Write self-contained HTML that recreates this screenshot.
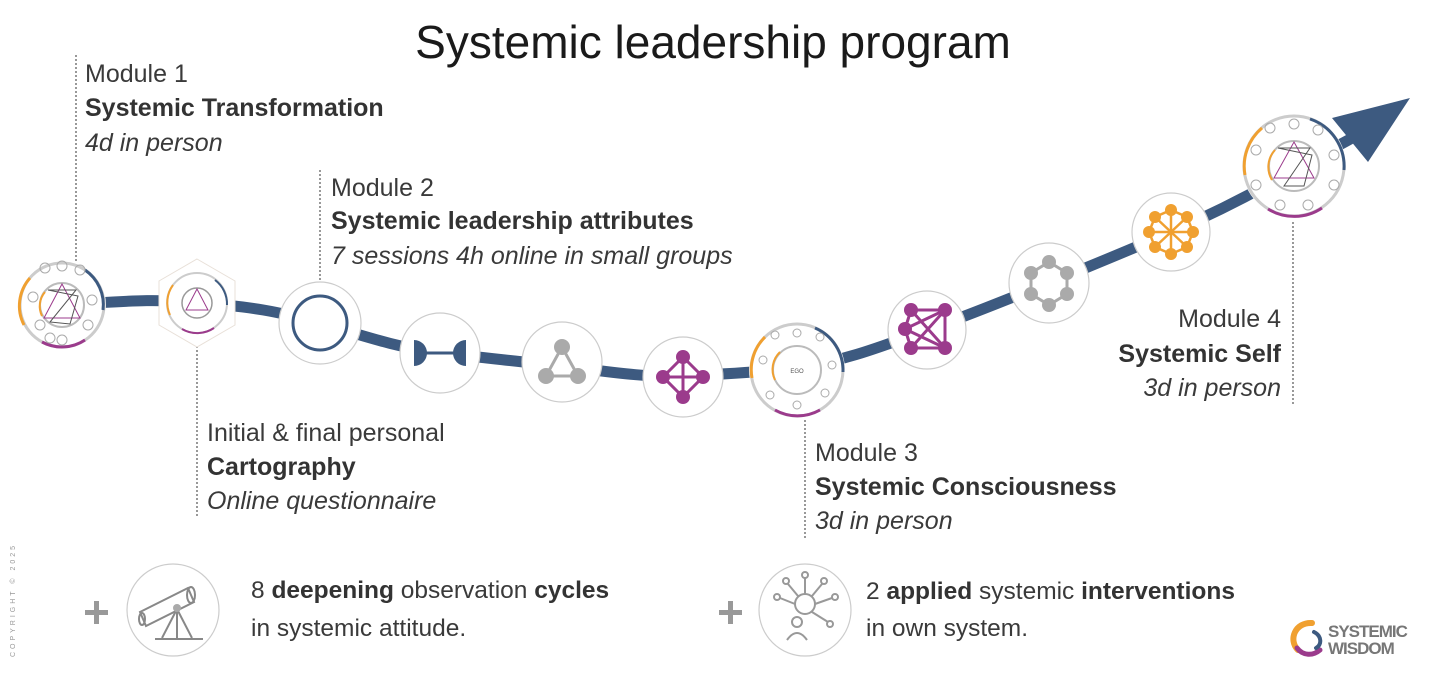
<!DOCTYPE html>
<html><head><meta charset="utf-8"><style>
html,body{margin:0;padding:0;background:#fff;}
svg{display:block;font-family:"Liberation Sans",sans-serif;}
.t{font-size:25px;fill:#3a3a3a;}
.s{font-size:24.5px;fill:#3a3a3a;}
.b{font-weight:bold;fill:#333;}
.i{font-style:italic;}
</style></head><body>
<svg width="1429" height="673" viewBox="0 0 1429 673" xmlns="http://www.w3.org/2000/svg">
<text x="713" y="58" text-anchor="middle" font-size="46" fill="#1a1a1a">Systemic leadership program</text>

<g stroke="#555" stroke-width="1.2" stroke-dasharray="2,2" fill="none">
<line x1="76" y1="55" x2="76" y2="262"/>
<line x1="197" y1="346" x2="197" y2="518"/>
<line x1="320" y1="170" x2="320" y2="284"/>
<line x1="805" y1="420" x2="805" y2="538"/>
<line x1="1293" y1="222" x2="1293" y2="405"/>
</g>

<path d="M60,305 C120,302 150,298 197,303 C250,306 280,312 320,323 C370,338 400,348 440,353 C490,358 520,362 562,366 C610,372 650,378 683,376 C730,374 760,372 797,368 C850,360 890,343 927,330 C970,315 1010,298 1049,283 C1090,266 1130,250 1171,232 C1215,213 1260,190 1300,166 C1325,152 1340,145 1352,138" stroke="#3d5a80" stroke-width="11" fill="none"/>
<polygon points="1410,98 1332,118 1368,162" fill="#3d5a80"/>

<g>
<circle cx="62" cy="305" r="44" fill="#fff"/>
<circle cx="62" cy="305" r="42" fill="none" stroke="#ccc" stroke-width="3"/>
<path d="M30,278 A42,42 0 0 0 24,325" stroke="#f0a030" stroke-width="3" fill="none"/>
<path d="M85,270 A42,42 0 0 1 103,310" stroke="#3d5a80" stroke-width="3" fill="none"/>
<path d="M42,342 A42,42 0 0 0 85,340" stroke="#9b3b8c" stroke-width="3" fill="none"/>
<circle cx="62" cy="305" r="22" fill="none" stroke="#bbb" stroke-width="2"/>
<path d="M45,292 A22,22 0 0 0 42,316" stroke="#f0a030" stroke-width="2" fill="none"/>
<polygon points="62,284 80,318 44,318" fill="none" stroke="#9b3b8c" stroke-width="1"/>
<polygon points="48,290 78,296 70,324 50,322 76,290" fill="none" stroke="#555" stroke-width="1"/>
<g fill="none" stroke="#aaa" stroke-width="1"><circle cx="45" cy="268" r="5"/><circle cx="62" cy="266" r="5"/><circle cx="80" cy="270" r="5"/><circle cx="33" cy="297" r="5"/><circle cx="92" cy="300" r="5"/><circle cx="40" cy="325" r="5"/><circle cx="88" cy="325" r="5"/><circle cx="62" cy="340" r="5"/><circle cx="50" cy="338" r="5"/></g>
</g>

<polygon points="197,259 235,281 235,325 197,347 159,325 159,281" fill="#fff" stroke="#e8e0d8" stroke-width="1"/>
<circle cx="197" cy="303" r="30" fill="none" stroke="#ccc" stroke-width="2"/>
<path d="M173,285 A30,30 0 0 0 170,315" stroke="#f0a030" stroke-width="2" fill="none"/>
<path d="M215,280 A30,30 0 0 1 227,305" stroke="#3d5a80" stroke-width="2" fill="none"/>
<path d="M182,329 A30,30 0 0 0 214,328" stroke="#9b3b8c" stroke-width="2" fill="none"/>
<circle cx="197" cy="303" r="15" fill="none" stroke="#999" stroke-width="1.5"/>
<polygon points="197,289 208,310 186,310" fill="none" stroke="#9b3b8c" stroke-width="1"/>

<g fill="#fff" stroke="#ccc" stroke-width="1.2">
<circle cx="320" cy="323" r="41"/>
<circle cx="440" cy="353" r="40"/>
<circle cx="562" cy="362" r="40"/>
<circle cx="683" cy="377" r="40"/>
<circle cx="927" cy="330" r="39"/>
<circle cx="1049" cy="283" r="40"/>
<circle cx="1171" cy="232" r="39"/>
</g>
<circle cx="320" cy="323" r="27" fill="none" stroke="#3d5a80" stroke-width="3"/>
<g fill="#3d5a80"><path d="M414,340 A13,13 0 0 1 414,366 Z"/><path d="M466,340 A13,13 0 0 0 466,366 Z"/></g>
<line x1="425" y1="353" x2="455" y2="353" stroke="#3d5a80" stroke-width="3"/>
<g stroke="#aaa" stroke-width="3"><line x1="562" y1="347" x2="546" y2="376"/><line x1="562" y1="347" x2="578" y2="376"/><line x1="546" y1="376" x2="578" y2="376"/></g>
<g fill="#aaa"><circle cx="562" cy="347" r="8"/><circle cx="546" cy="376" r="8"/><circle cx="578" cy="376" r="8"/></g>
<g stroke="#9b3b8c" stroke-width="3" fill="none"><polygon points="683,357 703,377 683,397 663,377"/><line x1="683" y1="357" x2="683" y2="397"/><line x1="663" y1="377" x2="703" y2="377"/></g>
<g fill="#9b3b8c"><circle cx="683" cy="357" r="7"/><circle cx="703" cy="377" r="7"/><circle cx="683" cy="397" r="7"/><circle cx="663" cy="377" r="7"/></g>

<circle cx="797" cy="370" r="48" fill="#fff"/>
<circle cx="797" cy="370" r="46" fill="none" stroke="#ccc" stroke-width="3"/>
<path d="M765,337 A46,46 0 0 0 752,378" stroke="#f0a030" stroke-width="3" fill="none"/>
<path d="M815,328 A46,46 0 0 1 843,372" stroke="#3d5a80" stroke-width="3" fill="none"/>
<path d="M775,410 A46,46 0 0 0 820,410" stroke="#9b3b8c" stroke-width="3" fill="none"/>
<circle cx="797" cy="370" r="24" fill="none" stroke="#bbb" stroke-width="2"/>
<path d="M780,352 A24,24 0 0 0 775,380" stroke="#f0a030" stroke-width="2" fill="none"/>
<g fill="none" stroke="#aaa" stroke-width="1"><circle cx="775" cy="335" r="4"/><circle cx="797" cy="333" r="4"/><circle cx="820" cy="337" r="4"/><circle cx="763" cy="360" r="4"/><circle cx="832" cy="365" r="4"/><circle cx="770" cy="395" r="4"/><circle cx="797" cy="405" r="4"/><circle cx="825" cy="393" r="4"/></g>
<text x="797" y="373" font-size="6" text-anchor="middle" fill="#555">EGO</text>

<g stroke="#9b3b8c" stroke-width="3"><line x1="911" y1="310" x2="945" y2="310"/><line x1="911" y1="310" x2="945" y2="348"/><line x1="945" y1="310" x2="911" y2="348"/><line x1="911" y1="348" x2="945" y2="348"/><line x1="905" y1="329" x2="911" y2="310"/><line x1="905" y1="329" x2="911" y2="348"/><line x1="905" y1="329" x2="945" y2="310"/><line x1="905" y1="329" x2="945" y2="348"/><line x1="945" y1="310" x2="945" y2="348"/></g>
<g fill="#9b3b8c"><circle cx="911" cy="310" r="7"/><circle cx="945" cy="310" r="7"/><circle cx="905" cy="329" r="7"/><circle cx="911" cy="348" r="7"/><circle cx="945" cy="348" r="7"/></g>
<polygon points="1049,262 1067,273 1067,294 1049,305 1031,294 1031,273" fill="none" stroke="#aaa" stroke-width="3"/>
<g fill="#aaa"><circle cx="1049" cy="262" r="7"/><circle cx="1067" cy="273" r="7"/><circle cx="1067" cy="294" r="7"/><circle cx="1049" cy="305" r="7"/><circle cx="1031" cy="294" r="7"/><circle cx="1031" cy="273" r="7"/></g>
<g stroke="#f0a030" stroke-width="2.5" fill="none"><polygon points="1171,210 1187,217 1193,232 1187,247 1171,254 1155,247 1149,232 1155,217"/><line x1="1171" y1="210" x2="1171" y2="254"/><line x1="1149" y1="232" x2="1193" y2="232"/><line x1="1155" y1="217" x2="1187" y2="247"/><line x1="1187" y1="217" x2="1155" y2="247"/></g>
<g fill="#f0a030"><circle cx="1171" cy="210" r="6"/><circle cx="1187" cy="217" r="6"/><circle cx="1193" cy="232" r="6"/><circle cx="1187" cy="247" r="6"/><circle cx="1171" cy="254" r="6"/><circle cx="1155" cy="247" r="6"/><circle cx="1149" cy="232" r="6"/><circle cx="1155" cy="217" r="6"/></g>

<circle cx="1294" cy="166" r="52" fill="#fff"/>
<circle cx="1294" cy="166" r="50" fill="none" stroke="#ccc" stroke-width="3"/>
<path d="M1262,128 A50,50 0 0 0 1245,175" stroke="#f0a030" stroke-width="3" fill="none"/>
<path d="M1310,119 A50,50 0 0 1 1344,170" stroke="#3d5a80" stroke-width="3" fill="none"/>
<path d="M1268,209 A50,50 0 0 0 1322,208" stroke="#9b3b8c" stroke-width="3" fill="none"/>
<circle cx="1294" cy="166" r="25" fill="none" stroke="#bbb" stroke-width="2"/>
<path d="M1275,150 A25,25 0 0 0 1272,180" stroke="#f0a030" stroke-width="2" fill="none"/>
<polygon points="1294,142 1314,178 1274,178" fill="none" stroke="#9b3b8c" stroke-width="1"/>
<polygon points="1278,148 1312,155 1304,186 1284,186 1310,148" fill="none" stroke="#555" stroke-width="1"/>
<g fill="none" stroke="#aaa" stroke-width="1"><circle cx="1270" cy="128" r="5"/><circle cx="1294" cy="124" r="5"/><circle cx="1318" cy="130" r="5"/><circle cx="1256" cy="150" r="5"/><circle cx="1334" cy="155" r="5"/><circle cx="1256" cy="185" r="5"/><circle cx="1334" cy="185" r="5"/><circle cx="1280" cy="205" r="5"/><circle cx="1308" cy="205" r="5"/></g>

<text class="t" x="85" y="82">Module 1</text>
<text class="t b" x="85" y="116">Systemic Transformation</text>
<text class="t i" x="85" y="151">4d in person</text>

<text class="t" x="331" y="196">Module 2</text>
<text class="t b" x="331" y="229">Systemic leadership attributes</text>
<text class="t i" x="331" y="264">7 sessions 4h online in small groups</text>

<text class="t" x="207" y="441">Initial &amp; final personal</text>
<text class="t b" x="207" y="475">Cartography</text>
<text class="t i" x="207" y="509">Online questionnaire</text>

<text class="t" x="815" y="461">Module 3</text>
<text class="t b" x="815" y="495">Systemic Consciousness</text>
<text class="t i" x="815" y="529">3d in person</text>

<text class="t" x="1281" y="327" text-anchor="end">Module 4</text>
<text class="t b" x="1281" y="362" text-anchor="end">Systemic Self</text>
<text class="t i" x="1281" y="396" text-anchor="end">3d in person</text>

<text x="15" y="600" font-size="7" fill="#999" letter-spacing="3" transform="rotate(-90 15 600)" text-anchor="middle">COPYRIGHT © 2025</text>
<g fill="#999"><rect x="85" y="610" width="23" height="5"/><rect x="94" y="601" width="5" height="23"/></g>
<circle cx="173" cy="610" r="46" fill="#fff" stroke="#ccc" stroke-width="1.2"/>
<g stroke="#888" stroke-width="2" fill="none">
<polygon points="140,612 188,588 194,602 146,626"/>
<ellipse cx="191" cy="595" rx="4" ry="8"/>
<ellipse cx="142" cy="619" rx="3" ry="6"/>
<line x1="177" y1="609" x2="162" y2="638"/><line x1="177" y1="609" x2="192" y2="638"/><line x1="177" y1="609" x2="177" y2="638"/>
<line x1="155" y1="639" x2="203" y2="639"/>
</g>
<circle cx="177" cy="608" r="4" fill="#aaa"/>
<text class="s" x="251" y="598"><tspan>8 </tspan><tspan class="b">deepening</tspan><tspan> observation </tspan><tspan class="b">cycles</tspan></text>
<text class="s" x="251" y="636">in systemic attitude.</text>

<g fill="#999"><rect x="719" y="610" width="23" height="5"/><rect x="728" y="601" width="5" height="23"/></g>
<circle cx="805" cy="610" r="46" fill="#fff" stroke="#ccc" stroke-width="1.2"/>
<g stroke="#999" stroke-width="2" fill="none">
<circle cx="805" cy="604" r="10"/>
<line x1="805" y1="594" x2="805" y2="578"/><line x1="795" y1="604" x2="780" y2="598"/><line x1="815" y1="604" x2="832" y2="598"/><line x1="812" y1="612" x2="828" y2="622"/><line x1="798" y1="596" x2="788" y2="584"/><line x1="812" y1="596" x2="822" y2="584"/>
<circle cx="805" cy="575" r="3"/><circle cx="777" cy="597" r="3"/><circle cx="835" cy="597" r="3"/><circle cx="830" cy="624" r="3"/><circle cx="786" cy="581" r="3"/><circle cx="824" cy="581" r="3"/>
<circle cx="797" cy="622" r="5"/><path d="M787,640 Q797,626 807,640"/>
</g>
<text class="s" x="866" y="599"><tspan>2 </tspan><tspan class="b">applied</tspan><tspan> systemic </tspan><tspan class="b">interventions</tspan></text>
<text class="s" x="866" y="636">in own system.</text>

<path d="M1312,623 C1295,622 1288,640 1298,650" stroke="#f0a030" stroke-width="6" fill="none" stroke-linecap="round"/>
<path d="M1297,648 C1303,656 1313,656 1320,650" stroke="#9b3b8c" stroke-width="5" fill="none" stroke-linecap="round"/>
<path d="M1314,632 C1322,636 1322,645 1316,648" stroke="#3d5a80" stroke-width="4" fill="none" stroke-linecap="round"/>
<text x="1328" y="637" font-size="17" fill="#777" font-weight="bold" letter-spacing="-1">SYSTEMIC</text>
<text x="1328" y="654" font-size="17" fill="#777" font-weight="bold" letter-spacing="-1">WISDOM</text>
</svg>
</body></html>
